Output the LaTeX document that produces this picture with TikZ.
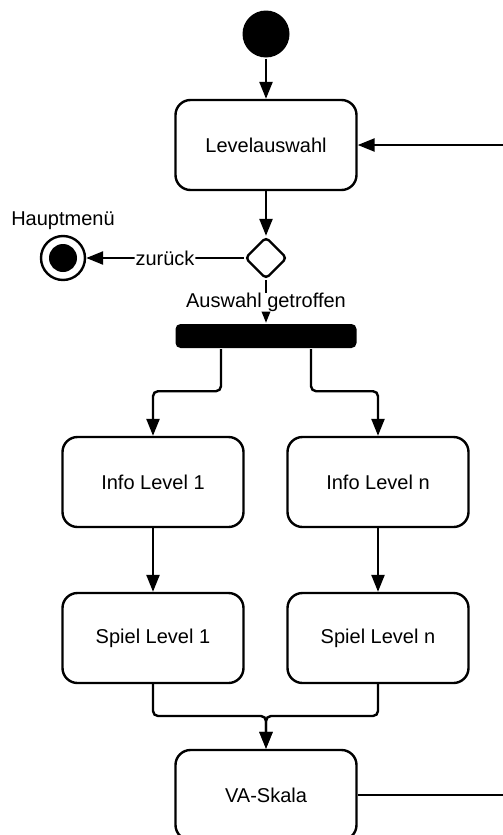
\documentclass[tikz,border=0pt]{standalone}
\usepackage{fontspec}
\setmainfont{Liberation Sans}
\usetikzlibrary{arrows.meta, calc, shapes.geometric}
\tikzset{every picture/.append style={line width=1.2pt, font=\fontsize{10}{12}\selectfont}}
\tikzset{activity/.style={draw, rounded corners=7.5pt, minimum width=90.5pt, minimum height=45pt, inner sep=0pt}}
\tikzset{startnode/.style={circle, fill, minimum size=23.5pt, inner sep=0pt}}
\tikzset{endnode/.style={circle, draw, minimum size=22pt, inner sep=0pt,
  path picture={\fill (path picture bounding box.center) circle (7pt);}}}
\tikzset{choice/.style={diamond, draw, aspect=1, minimum width=21pt, minimum height=21pt, inner sep=0pt, rounded corners=2pt}}
\tikzset{forkbar/.style={fill, rounded corners=2.5pt, minimum width=90.5pt, minimum height=12pt, inner sep=0pt}}
\tikzset{flow/.style={-{Triangle[length=8.5pt, width=6.5pt]}, rounded corners=2.5pt}}
\tikzset{guard/.style={fill=white, inner sep=0.5pt}}

\begin{document}
\begin{tikzpicture}[x=0.5pt, y=-0.5pt]
\useasboundingbox (0,0) rectangle (503,835);
\node[startnode] (start) at (266,34) {};
\node[activity] (levelauswahl) at (266,145) {Levelauswahl};
\node[choice] (auswahl) at (266,258) {};
\node[endnode, label={[label distance=-1.5pt]above:Hauptmenü}] (hauptmenue) at (63,258) {};
\node[forkbar] (fork) at (266,336) {};
\node[activity] (info1) at (153,482) {Info Level 1};
\node[activity] (infon) at (378,482) {Info Level n};
\node[activity] (spiel1) at (153,638) {Spiel Level 1};
\node[activity] (spieln) at (378,638) {Spiel Level n};
\node[activity] (vaskala) at (266,795) {VA-Skala};
\coordinate (rueckin) at (503,145);
\coordinate (rueckout) at (503,795);
\coordinate (join) at (266,716);

\draw[flow] (start) -- (levelauswahl);
\draw[flow] (rueckin) -- (levelauswahl);
\draw[flow] (levelauswahl) -- (auswahl);
\draw[flow] (auswahl) -- node[guard] {zurück} (hauptmenue);
\draw[flow] (auswahl) -- node[guard, inner sep=0pt, pos=0.52] {Auswahl getroffen} (fork);
\draw[flow] ([xshift=-22.5pt]fork.south) -- ++(0,42) -| (info1);
\draw[flow] ([xshift=22.5pt]fork.south) -- ++(0,42) -| (infon);
\draw[flow] (info1) -- (spiel1);
\draw[flow] (infon) -- (spieln);
\draw[flow] (spiel1) |- (join) -- (vaskala);
\draw[flow] (spieln) |- (join) -- (vaskala);
\draw (vaskala) -- (rueckout);
\end{tikzpicture}
\end{document}
